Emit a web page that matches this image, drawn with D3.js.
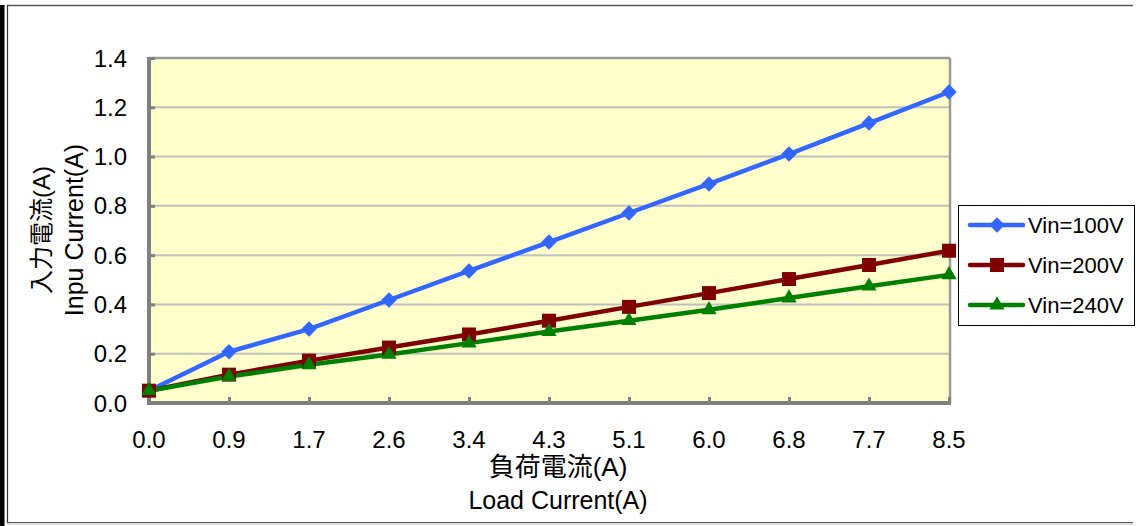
<!DOCTYPE html>
<html><head><meta charset="utf-8">
<script src="https://cdn.jsdelivr.net/npm/d3@7"></script>
<style>
html,body{margin:0;padding:0;background:#fff;}
svg{display:block;font-family:"Liberation Sans","Noto Sans CJK JP",sans-serif;}
</style></head>
<body>
<svg id="c" width="1141" height="526"></svg>
<script>
const categories = ["0.0","0.9","1.7","2.6","3.4","4.3","5.1","6.0","6.8","7.7","8.5"];
const vin100 = [0.05,0.208,0.30,0.418,0.536,0.653,0.771,0.889,1.01,1.136,1.262];
const vin200 = [0.05,0.115,0.172,0.225,0.278,0.334,0.39,0.446,0.503,0.56,0.618];
const vin240 = [0.05,0.107,0.155,0.197,0.243,0.29,0.334,0.378,0.426,0.474,0.52];
const seriesNames = ["Vin=100V","Vin=200V","Vin=240V"];
const yTicks = [0,0.2,0.4,0.6,0.8,1.0,1.2,1.4];

const svg = d3.select("#c");
const L=149, R=949, T=58, B=403;
const x = d3.scalePoint().domain(categories).range([L,R]);
const y = d3.scaleLinear().domain([0,1.4]).range([B,T]);

// outer frame
svg.append("rect").attr("x",0).attr("y",5).attr("width",4.5).attr("height",521).attr("fill","#000");
svg.append("line").attr("x1",7).attr("x2",1133).attr("y1",5.5).attr("y2",5.5).attr("stroke","#555").attr("stroke-width",1.5);
svg.append("line").attr("x1",7.5).attr("x2",7.5).attr("y1",5).attr("y2",523).attr("stroke","#333").attr("stroke-width",1.2);
svg.append("line").attr("x1",7).attr("x2",1133).attr("y1",522.5).attr("y2",522.5).attr("stroke","#555").attr("stroke-width",1.2);
svg.append("line").attr("x1",7).attr("x2",1133).attr("y1",524).attr("y2",524).attr("stroke","#bbb").attr("stroke-width",1.2);

// plot background
svg.append("rect").attr("x",L).attr("y",T).attr("width",R-L).attr("height",B-T).attr("fill","#FFFFCC");

// grid
svg.append("g").selectAll("line").data(yTicks.filter(d=>d>0 && d<1.4)).join("line")
  .attr("x1",L).attr("x2",R).attr("y1",d=>y(d)).attr("y2",d=>y(d))
  .attr("stroke","#C0C0C0").attr("stroke-width",2);

// plot border top/right
svg.append("line").attr("x1",L).attr("x2",R+1).attr("y1",T).attr("y2",T).attr("stroke","#999").attr("stroke-width",2.5);
svg.append("line").attr("x1",R+1).attr("x2",R+1).attr("y1",T).attr("y2",B).attr("stroke","#999").attr("stroke-width",2.5);

// axes
const xAxis = d3.axisBottom(x).tickSize(-6).tickPadding(0).tickFormat(()=>"");
const gx = svg.append("g").attr("transform",`translate(0,${B})`).call(xAxis);
gx.select(".domain").attr("stroke","#808080").attr("stroke-width",4).attr("d",`M${L-2},0H${R+2}`);
gx.selectAll(".tick line").attr("stroke","#808080").attr("stroke-width",3);
const yAxis = d3.axisLeft(y).tickValues(yTicks).tickSize(-6).tickFormat(()=>"");
const gy = svg.append("g").attr("transform",`translate(${L},0)`).call(yAxis);
gy.select(".domain").attr("stroke","#808080").attr("stroke-width",4).attr("d",`M0,${T-1}V${B+2}`);
gy.selectAll(".tick line").attr("stroke","#808080").attr("stroke-width",3);

// tick labels
svg.append("g").selectAll("text").data(categories).join("text")
  .attr("x",d=>x(d)).attr("y",448).attr("text-anchor","middle")
  .attr("font-size",24).attr("fill","#000").text(d=>d);
svg.append("g").selectAll("text").data(yTicks).join("text")
  .attr("x",127).attr("y",d=>y(d)+8.5).attr("text-anchor","end")
  .attr("font-size",24).attr("fill","#000").text(d=>d.toFixed(1));

// axis titles
svg.append("text").attr("x",558).attr("y",476).attr("text-anchor","middle").attr("font-size",26).text("負荷電流(A)");
svg.append("text").attr("x",558).attr("y",509).attr("text-anchor","middle").attr("font-size",25).text("Load Current(A)");
svg.append("text").attr("transform","translate(50,230) rotate(-90)").attr("text-anchor","middle").attr("font-size",24).text("入力電流(A)");
svg.append("text").attr("transform","translate(83,230) rotate(-90)").attr("text-anchor","middle").attr("font-size",25).text("Inpu Current(A)");

// series
const series = [
  {name:seriesNames[0], values:vin100, color:"#3366FF", sym:"diamond"},
  {name:seriesNames[1], values:vin200, color:"#800000", sym:"square"},
  {name:seriesNames[2], values:vin240, color:"#008000", sym:"triangle"}
];
function marker(sel, s){
  if(s.sym==="diamond"){
    sel.attr("d", d3.symbol(d3.symbolSquare, 120)());
  } else if(s.sym==="square"){
    sel.attr("d", d3.symbol(d3.symbolSquare, 196)());
  } else {
    sel.attr("d", d3.symbol(d3.symbolTriangle, 100)());
  }
  return sel;
}
const line = d3.line().x((d,i)=>x(categories[i])).y(d=>y(d));
series.forEach(s=>{
  svg.append("path").datum(s.values).attr("d",line).attr("fill","none")
    .attr("stroke",s.color).attr("stroke-width",4.5).attr("stroke-linejoin","round");
});
series.forEach(s=>{
  const g = svg.append("g");
  g.selectAll("path").data(s.values).join("path")
    .call(sel=>marker(sel,s))
    .attr("transform",(d,i)=>`translate(${x(categories[i])},${y(d)})`+(s.sym==="diamond"?" rotate(45)":""))
    .attr("fill",s.color);
});

// legend
const lg = svg.append("g");
lg.append("rect").attr("x",958.5).attr("y",205.5).attr("width",176).attr("height",120)
  .attr("fill","#fff").attr("stroke","#000").attr("stroke-width",1);
series.forEach((s,i)=>{
  const cy = 225 + i*40;
  lg.append("line").attr("x1",970).attr("x2",1023).attr("y1",cy).attr("y2",cy)
    .attr("stroke",s.color).attr("stroke-width",4.5).attr("stroke-linecap","round");
  lg.append("path").call(sel=>marker(sel,s))
    .attr("transform",`translate(997,${cy})`+(s.sym==="diamond"?" rotate(45)":""))
    .attr("fill",s.color);
  lg.append("text").attr("x",1028).attr("y",cy+8).attr("font-size",22).text(s.name);
});
</script>
</body></html>
